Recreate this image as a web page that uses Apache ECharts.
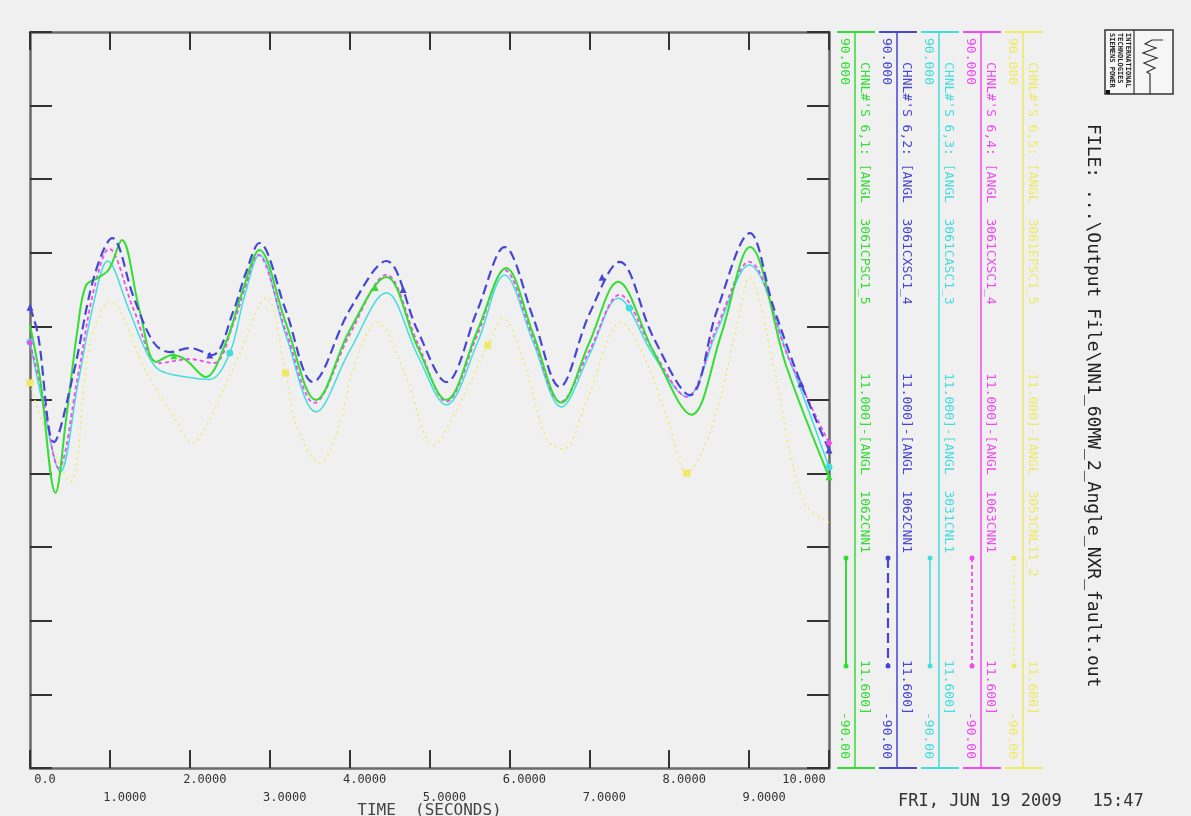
<!DOCTYPE html>
<html><head><meta charset="utf-8">
<script src="https://cdn.jsdelivr.net/npm/echarts@6/dist/echarts.min.js"></script>
<style>html,body{margin:0;padding:0;background:#f0f0f0}#c{width:1191px;height:816px}</style>
</head><body><div id="c"></div>
<script>
// ---- tick labels / axis texts ----
const xTickLabels = ['0.0','1.0000','2.0000','3.0000','4.0000','5.0000','6.0000','7.0000','8.0000','9.0000','10.000'];
const axisTopLabel = '90.000';
const axisBottomLabel = '-90.00';
const xAxisTitle = 'TIME  (SECONDS)';
const dateText = 'FRI, JUN 19 2009   15:47';
const fileText = 'FILE: ...\\Output File\\NN1_60MW_2_Angle_NXR_fault.out';

// ---- channel descriptions (legend columns: green, blue, cyan, magenta, yellow) ----
const chanPart1 = ["CHNL#'S 6,1: [ANGL  3061CPSC1_5", "CHNL#'S 6,2: [ANGL  3061CXSC1_4", "CHNL#'S 6,3: [ANGL  3061CASC1_3", "CHNL#'S 6,4: [ANGL  3061CXSC1_4", "CHNL#'S 6,5: [ANGL  3061EPSC1_5"];
const chanPart2 = ["11.000]-[ANGL  1062CNN1", "11.000]-[ANGL  1062CNN1", "11.000]-[ANGL  3031CNL1", "11.000]-[ANGL  1063CNN1", "11.000]-[ANGL  3053CNL11_2"];
const chanPart3 = ["11.600]", "11.600]", "11.600]", "11.600]", "11.600]"];

// ---- series values (time in s, angle in deg) ----
const greenT = [0,0.12,0.32,0.45,0.6,0.7,0.86,0.99,1.15,1.37,1.58,1.78,1.95,2.2,2.45,2.65,2.87,3.2,3.58,4.0,4.46,4.85,5.21,5.6,5.96,6.3,6.65,7.0,7.36,7.8,8.28,8.65,9.01,9.47,10];
const greenV = [18.3,6,-22.7,-5,18,28,30,32,39.1,22,9.3,11,9.8,5.6,14,26,36.7,19,0,17,30.1,13,0,17,32.3,16,-0.7,14,28.9,12,-3.6,16,37.4,8,-18.8];

const blueT = [0,0.1,0.3,0.55,0.8,1.03,1.3,1.55,1.75,2.0,2.28,2.55,2.7,2.87,3.2,3.54,4.0,4.46,4.85,5.21,5.6,5.94,6.3,6.63,7.0,7.38,7.8,8.26,8.6,9.01,9.3,9.65,10];
const blueV = [22.7,16,-10.3,7,30,39.6,25,14,11.7,12.7,11,22,31,38.4,22,4.4,22,34,17,4.4,22,37.4,20,3.2,21,33.8,15.4,1.2,22,40.8,23,4,-12.2];

const cyanT = [0,0.15,0.38,0.6,0.8,0.97,1.24,1.45,1.62,2.0,2.25,2.5,2.68,2.87,3.2,3.58,4.0,4.46,4.85,5.21,5.6,5.94,6.3,6.65,7.0,7.36,7.8,8.22,8.6,9.0,9.5,10];
const cyanV = [14.2,0,-17.6,4,24,34,22,12,7.3,5.5,5,11.5,25,35.5,16,-2.9,12,26.2,11,-1.2,14,30.6,14,-1.7,11,24.9,11,0.8,17,33,10,-16.4];

const magentaT = [0,0.15,0.36,0.6,0.8,0.99,1.3,1.62,2.0,2.3,2.55,2.7,2.85,3.2,3.56,4.0,4.46,4.85,5.21,5.6,5.94,6.3,6.64,7.0,7.38,7.8,8.22,8.6,9.0,9.5,10];
const magentaV = [14,2,-16.6,6,27,37,22,9,10,9,19,28,35.5,17,-0.7,16,30.6,14,-0.4,16,31.8,15,-0.5,12,25.7,12,0.8,18,33.8,10,-10.5];

const yellowT = [0,0.2,0.5,0.75,1.0,1.46,1.8,2.04,2.2,2.59,2.96,3.2,3.34,3.63,3.88,4.05,4.35,4.7,5.05,5.35,5.73,5.92,6.2,6.47,6.68,6.97,7.4,7.7,8.0,8.22,8.55,8.89,9.0,9.3,9.67,10];
const yellowV = [4.2,-8,-20,14,24,6.6,-4,-10.5,-6.6,9.8,25,6.6,-6.6,-15.4,-5.6,8,19,6,-11,-2,13.4,20,8,-9.8,-12,0,19,10,-6,-17.9,-5.6,22,30,9,-24.5,-30];

// ---- plot markers (time, angle) ----
const greenMarks = [[1.8,10.8],[4.32,27.5],[10,-18.8]];
const blueMarks = [[0,22.7],[2.25,11],[4.67,27],[7.16,30],[9.65,4],[10,-12.2]];
const cyanMarks = [[0,14.2],[2.5,11.5],[7.5,22.5],[10,-16.4]];
const magentaMarks = [[0,14],[10,-10.5]];
const yellowMarks = [[0,4.2],[3.2,6.6],[5.73,13.4],[8.22,-17.9]];

const zip = (t, v) => t.map((x, i) => [x, v[i]]);

const MONO = '"DejaVu Sans Mono", monospace';
const colors = { green:'#33dd33', blue:'#4646d6', cyan:'#44dddd', magenta:'#f04af0', yellow:'#efea66' };
const colOrder = ['green','blue','cyan','magenta','yellow'];
const dashes = { green:null, blue:[10,5], cyan:null, magenta:[4,3], yellow:[2,4] };
const widths = { green:2, blue:2.2, cyan:1.5, magenta:1.8, yellow:1.5 };

function mkSeries(name, t, v, marks, sym) {
  return {
    name, type:'line', data: zip(t, v), smooth: 0.35, showSymbol:false,
    xAxisIndex:0, yAxisIndex:0,
    lineStyle:{ color:colors[name], width:widths[name], type: dashes[name] || 'solid' },
    itemStyle:{ color:colors[name] },
    markPoint:{ symbol:sym, symbolSize:7, label:{show:false}, itemStyle:{color:colors[name]},
      data: marks.map(m => ({ coord:m })) },
    silent:true, z: 2
  };
}

const graphic = [];
const colX = [855, 897, 939, 981, 1023];
colOrder.forEach((nm, i) => {
  const L = colX[i], c = colors[nm];
  graphic.push({type:'line', shape:{x1:L,y1:32,x2:L,y2:768}, style:{stroke:c, lineWidth:1.5}});
  graphic.push({type:'line', shape:{x1:L-18,y1:32,x2:L+20,y2:32}, style:{stroke:c, lineWidth:2}});
  graphic.push({type:'line', shape:{x1:L-18,y1:768,x2:L+20,y2:768}, style:{stroke:c, lineWidth:2}});
  const vt = (txt, x, y) => ({type:'text', x, y, rotation:-Math.PI/2,
    style:{text:txt, fill:c, font:'13px ' + MONO, textAlign:'left', textVerticalAlign:'middle'}});
  graphic.push(vt(axisTopLabel, L-11, 38));
  graphic.push(vt(chanPart1[i], L+9, 62));
  graphic.push(vt(chanPart2[i], L+9, 373));
  graphic.push(vt(chanPart3[i], L+9, 660));
  graphic.push(vt(axisBottomLabel, L-11, 712));
  const st = {stroke:c, lineWidth:widths[nm]};
  if (dashes[nm]) st.lineDash = dashes[nm];
  graphic.push({type:'line', shape:{x1:L-9,y1:558,x2:L-9,y2:666}, style:st});
  graphic.push({type:'circle', shape:{cx:L-9, cy:558, r:2.5}, style:{fill:c}});
  graphic.push({type:'circle', shape:{cx:L-9, cy:666, r:2.5}, style:{fill:c}});
});
// file text, date, logo
graphic.push({type:'text', x:1093, y:124, rotation:-Math.PI/2,
  style:{text:fileText, fill:'#222', font:'18px ' + MONO, textAlign:'left', textVerticalAlign:'middle'}});
graphic.push({type:'text', x:898, y:802,
  style:{text:dateText, fill:'#333', font:'17px ' + MONO, textAlign:'left', textVerticalAlign:'middle'}});
graphic.push({type:'rect', shape:{x:1105,y:30,width:68,height:64}, style:{fill:'#f6f6f6', stroke:'#333', lineWidth:1.5}});
graphic.push({type:'line', shape:{x1:1134,y1:30,x2:1134,y2:94}, style:{stroke:'#333', lineWidth:1.2}});
['SIEMENS POWER','TECHNOLOGIES','INTERNATIONAL'].forEach((s, k) => {
  graphic.push({type:'text', x:1112 + k*8, y:33, rotation:-Math.PI/2,
    style:{text:s, fill:'#222', font:'bold 7px ' + MONO, textAlign:'left', textVerticalAlign:'middle'}});
});
graphic.push({type:'polyline', shape:{points:[[1163,40],[1152,40],[1145,44],[1156,48],[1143,53],[1157,58],[1144,63],[1155,68],[1147,72],[1150,74],[1150,94]]},
  style:{stroke:'#333', lineWidth:1.2, fill:null}});
graphic.push({type:'rect', shape:{x:1106,y:90,width:4,height:4}, style:{fill:'#111'}});

const axLine = {show:true, onZero:false, lineStyle:{color:'#6a6a6a', width:2.5}};
const axTickX = {show:true, inside:true, length:18, lineStyle:{color:'#333', width:2}};
const axTickY = {show:true, inside:true, length:22, lineStyle:{color:'#333', width:2}};

const option = {
  backgroundColor:'#f0f0f0',
  animation:false,
  grid:{left:30, top:32, width:799, height:736, outerBoundsMode:'none', containLabel:false},
  xAxis:[
    {type:'value', position:'bottom', min:0, max:10, interval:1,
     axisLine:axLine, axisTick:axTickX, splitLine:{show:false},
     name:xAxisTitle, nameLocation:'middle', nameGap:35, nameMoveOverlap:false,
     nameTextStyle:{fontFamily:MONO, fontSize:16, color:'#444', verticalAlign:'top'},
     axisLabel:{show:true, showMinLabel:true, showMaxLabel:true, margin:6, color:'#333',
       fontFamily:MONO, fontSize:12, hideOverlap:false,
       formatter: v => { const i = Math.round(v); const s = xTickLabels[i];
         if (i === 10) return '{t|' + s + '}';
         return (i % 2 === 0 ? '{e|' : '{o|') + s + '}'; },
       rich:{
         e:{padding:[0,0,0,30], fontFamily:MONO, fontSize:12, color:'#333'},
         o:{padding:[18,0,0,30], fontFamily:MONO, fontSize:12, color:'#333'},
         t:{padding:[0,50,0,0], fontFamily:MONO, fontSize:12, color:'#333'}
       }}},
    {type:'value', position:'top', min:0, max:10, interval:1,
     axisLine:axLine, axisTick:axTickX, axisLabel:{show:false}, splitLine:{show:false}}
  ],
  yAxis:[
    {type:'value', position:'left', min:-90, max:90, interval:18,
     axisLine:axLine, axisTick:axTickY, axisLabel:{show:false}, splitLine:{show:false}},
    {type:'value', position:'right', min:-90, max:90, interval:18,
     axisLine:axLine, axisTick:axTickY, axisLabel:{show:false}, splitLine:{show:false}}
  ],
  series:[
    mkSeries('yellow', yellowT, yellowV, yellowMarks, 'rect'),
    mkSeries('cyan', cyanT, cyanV, cyanMarks, 'circle'),
    mkSeries('magenta', magentaT, magentaV, magentaMarks, 'diamond'),
    mkSeries('green', greenT, greenV, greenMarks, 'triangle'),
    mkSeries('blue', blueT, blueV, blueMarks, 'triangle')
  ],
  graphic: graphic
};
const chart = echarts.init(document.getElementById('c'), null, {renderer:'canvas'});
chart.setOption(option);
</script></body></html>
